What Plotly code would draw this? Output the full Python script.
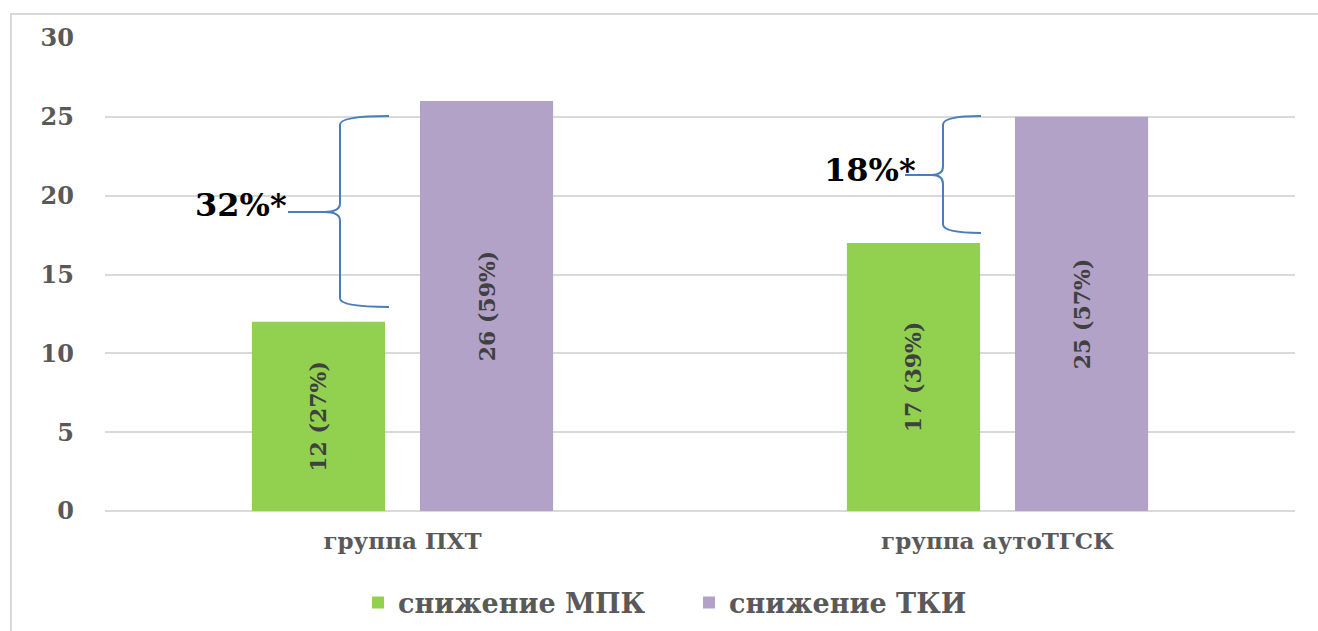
import plotly.graph_objects as go

# Groups and the two measured decreases per group
groups = ["группа ПХТ", "группа аутоТГСК"]
series_names = ["снижение МПК", "снижение ТКИ"]
mpk_values = [12, 17]
tki_values = [26, 25]
mpk_pct = [27, 39]
tki_pct = [59, 57]
# Difference between the two shares in each group (shown next to the braces)
diff_labels = ["32%*", "18%*"]

y_ticks = [0, 5, 10, 15, 20, 25, 30]

GREEN = "#92d050"
PURPLE = "#b3a2c7"
GRID = "#d9d9d9"
BRACE = "#4a7ebb"
FONT = "DejaVu Serif"

W, H = 1318, 631
M_L, M_R, M_T, M_B = 105, 23, 38, 120
PW = W - M_L - M_R
PH = H - M_T - M_B
Y_MAX = 30


def px_x(px):
    return (px - M_L) / PW


def px_y(px):
    return (H - M_B - px) / PH * Y_MAX


def bar_text(vals, pcts):
    return [f"{v} ({p}%)" for v, p in zip(vals, pcts)]


fig = go.Figure()
for name, vals, pcts, color in [
    (series_names[0], mpk_values, mpk_pct, GREEN),
    (series_names[1], tki_values, tki_pct, PURPLE),
]:
    fig.add_trace(go.Bar(
        name=name, x=groups, y=vals,
        marker=dict(color=color, line=dict(width=0)),
        text=bar_text(vals, pcts),
        textposition="inside", insidetextanchor="middle",
        textangle=-90,
        textfont=dict(family=FONT, size=22, color="#404040", weight="bold"),
        cliponaxis=False,
    ))


def brace_path(x_arm, x_vert, x_tip, y_top, y_mid, y_bot):
    # curly brace opening to the right, tip pointing left
    ry = 0.55
    tx = (x_vert - x_tip) * 0.3
    return (
        f"M {x_arm},{y_top} "
        f"Q {x_vert},{y_top} {x_vert},{y_top - ry} "
        f"L {x_vert},{y_mid + ry} "
        f"Q {x_vert},{y_mid} {x_vert - tx},{y_mid} "
        f"L {x_tip},{y_mid} "
        f"M {x_vert - tx},{y_mid} "
        f"Q {x_vert},{y_mid} {x_vert},{y_mid - ry} "
        f"L {x_vert},{y_bot + ry} "
        f"Q {x_vert},{y_bot} {x_arm},{y_bot}"
    )


braces = [
    dict(x_arm=px_x(389), x_vert=px_x(340), x_tip=px_x(288),
         y_top=px_y(116), y_mid=px_y(212), y_bot=px_y(307)),
    dict(x_arm=px_x(981), x_vert=px_x(943), x_tip=px_x(905),
         y_top=px_y(116), y_mid=px_y(175), y_bot=px_y(233)),
]
label_pos = [(px_x(289), px_y(205)), (px_x(918), px_y(170))]

shapes = [
    # outer frame of the chart
    dict(type="rect", xref="paper", yref="paper",
         x0=px_x(11), x1=px_x(1330), y0=-0.4, y1=(H - M_B - 14) / PH,
         line=dict(color=GRID, width=2), fillcolor="rgba(0,0,0,0)",
         layer="below"),
]
for b in braces:
    shapes.append(dict(type="path", xref="paper", yref="y",
                       path=brace_path(**b),
                       line=dict(color=BRACE, width=2)))

annotations = []
for txt, (ax, ay) in zip(diff_labels, label_pos):
    annotations.append(dict(
        text=f"<b>{txt}</b>", xref="paper", yref="y", x=ax, y=ay,
        xanchor="right", yanchor="middle", showarrow=False,
        font=dict(family=FONT, size=32, color="#000000"),
    ))

fig.update_layout(
    width=W, height=H,
    margin=dict(l=M_L, r=M_R, t=M_T, b=M_B, autoexpand=False),
    paper_bgcolor="white", plot_bgcolor="white",
    barmode="group", bargap=0.435, bargroupgap=0.208,
    shapes=shapes, annotations=annotations,
    showlegend=True,
    legend=dict(
        orientation="h", xanchor="left", yanchor="middle",
        xref="container", yref="container",
        x=358 / W, y=(H - 603) / H,
        font=dict(family=FONT, size=27, color="#595959", weight="bold"),
        entrywidth=286, entrywidthmode="pixels",
        itemclick=False, itemdoubleclick=False,
    ),
    xaxis=dict(
        showgrid=False, showline=False, zeroline=False, ticks="",
        tickfont=dict(family=FONT, size=23, color="#595959", weight="bold"),
        ticklabelstandoff=14, automargin=False,
    ),
    yaxis=dict(
        range=[0, Y_MAX], tickvals=y_ticks,
        showgrid=True, gridcolor=GRID, gridwidth=2,
        zeroline=True, zerolinecolor=GRID, zerolinewidth=2,
        showline=False, ticks="",
        tickfont=dict(family=FONT, size=24, color="#595959", weight="bold"),
        ticklabelstandoff=30, automargin=False,
    ),
)

fig.write_html("out.html")
